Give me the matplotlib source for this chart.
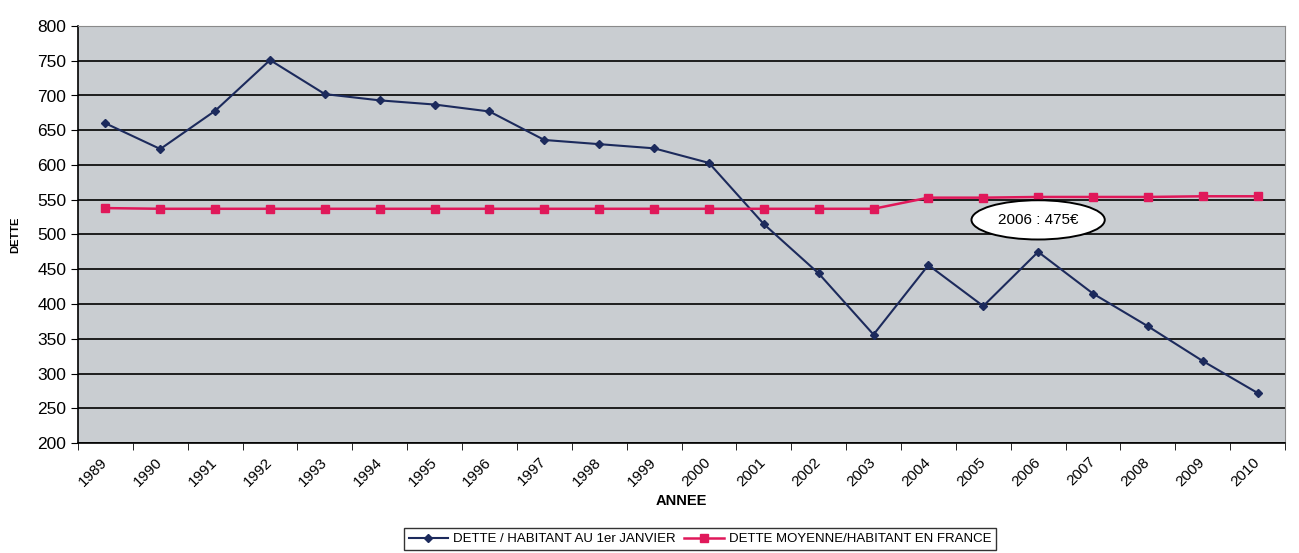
import matplotlib
matplotlib.use("Agg")
import matplotlib.pyplot as plt
import numpy as np

plt.rcParams['font.family'] = ['Liberation Sans', 'DejaVu Sans']

# donnees
annees = [str(a) for a in range(1989, 2011)]
dette_habitant = [660, 623, 678, 751, 702, 693, 687, 677, 636, 630, 624,
                  603, 515, 444, 356, 456, 397, 475, 415, 368, 318, 272]
dette_moyenne = [538, 537, 537, 537, 537, 537, 537, 537, 537, 537, 537,
                 537, 537, 537, 537, 553, 553, 554, 554, 554, 555, 555]
y_ticks = list(range(200, 801, 50))

bleu = '#1c2a5c'
rouge = '#e0185a'

fig = plt.figure(figsize=(12.99, 5.53), dpi=100)
ax = fig.add_axes([78 / 1299, 1 - 443 / 553, (1285 - 78) / 1299, (443 - 26) / 553])
ax.set_facecolor('#c9cdd1')

x = np.arange(len(annees))
l1, = ax.plot(x, dette_habitant, color=bleu, lw=1.5, marker='D', ms=4.5,
              label='DETTE / HABITANT AU 1er JANVIER')
l2, = ax.plot(x, dette_moyenne, color=rouge, lw=1.8, marker='s', ms=6,
              label='DETTE MOYENNE/HABITANT EN FRANCE')

ax.set_xlim(-0.5, len(annees) - 0.5)
ax.set_ylim(200, 800)
ax.set_yticks(y_ticks)
ax.yaxis.grid(True, color='black', lw=1.2)
ax.set_axisbelow(True)
ax.tick_params(axis='y', labelsize=12.5, length=5, direction='out')

# labels au centre, graduations entre les categories
ax.set_xticks(x)
ax.set_xticklabels(annees, rotation=45, ha='right', va='center',
                   rotation_mode='anchor', fontsize=11)
ax.tick_params(axis='x', which='major', length=0, pad=12)
ax.set_xticks(np.arange(-0.5, len(annees), 1), minor=True)
ax.tick_params(axis='x', which='minor', length=5, direction='out')

for s in ['left', 'bottom']:
    ax.spines[s].set_color('black')
    ax.spines[s].set_linewidth(1.2)
for s in ['top', 'right']:
    ax.spines[s].set_color('#8a8a8a')
    ax.spines[s].set_linewidth(0.8)

ax.set_xlabel('ANNEE', fontsize=10.5, fontweight='bold', labelpad=4)
ax.set_ylabel('DETTE', fontsize=8, fontweight='bold', labelpad=12)

i06 = annees.index('2006')
ax.annotate('2006 : 475€', xy=(x[i06], dette_habitant[i06]),
            xytext=(0, 32), textcoords='offset pixels',
            ha='center', va='center', fontsize=11,
            bbox=dict(boxstyle='ellipse,pad=0.45', fc='white', ec='black', lw=1.4))

fig.legend(handles=[l1, l2], loc='center', ncol=2,
           bbox_to_anchor=(700 / 1299, 1 - 539 / 553), fontsize=9.5,
           frameon=True, fancybox=False, edgecolor='black', handlelength=3,
           columnspacing=0.6, handletextpad=0.4, borderpad=0.35)

fig.savefig('out.png', dpi=100, facecolor='white')
